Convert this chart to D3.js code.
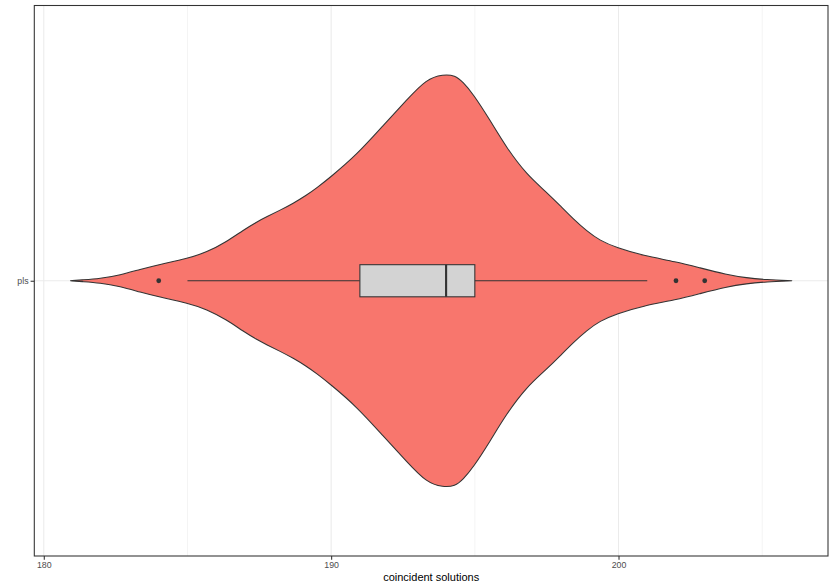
<!DOCTYPE html>
<html>
<head>
<meta charset="utf-8">
<script src="https://cdn.jsdelivr.net/npm/d3@7"></script>
<style>
  html, body { margin: 0; padding: 0; background: #ffffff; }
  svg { display: block; }
</style>
</head>
<body>
<svg id="chart" width="830" height="588"></svg>
<script>
// ---- data ----
const categories = ["pls"];
// violin profile: value along x and relative density (max = 1)
const violinValues  = [180.93, 181.3, 181.96, 182.66, 183.35, 184.05, 184.98, 185.67, 186.37, 186.94, 187.41, 187.76, 188.2, 188.68, 189.15, 189.50, 189.96, 190.89, 191.81, 192.63, 193.32, 193.90, 194.31, 194.59, 194.94, 195.52, 196.10, 196.80, 197.49, 197.96, 198.42, 198.9, 199.35, 199.93, 200.85, 202.01, 202.82, 203.75, 204.45, 205.14, 206.03];
const violinDensity = [0, 0.004, 0.01, 0.028, 0.055, 0.08, 0.107, 0.138, 0.19, 0.245, 0.285, 0.31, 0.34, 0.375, 0.415, 0.45, 0.5, 0.61, 0.752, 0.876, 0.978, 1.0, 0.995, 0.962, 0.905, 0.78, 0.645, 0.515, 0.43, 0.365, 0.3, 0.24, 0.195, 0.16, 0.122, 0.092, 0.063, 0.03, 0.014, 0.005, 0];
// boxplot summary
const boxStats = { lowerWhisker: 185, q1: 191, median: 194, q3: 195, upperWhisker: 201 };
const outliers = [184, 202, 203];
const xTicks = [180, 190, 200];
const xMinorTicks = [185, 195, 205];
const xDomain = [179.67, 207.29];
const xTitle = "coincident solutions";

// ---- layout ----
const panel = { left: 34.3, right: 828, top: 5.5, bottom: 556 };
const svg = d3.select("#chart");
const font = "'Liberation Sans', Arial, Helvetica, sans-serif";

const x = d3.scaleLinear().domain(xDomain).range([panel.left, panel.right]);
const y = d3.scalePoint().domain(categories).range([panel.top, panel.bottom]).padding(0.6);
const step = y.step();
const violinHalf = d3.scaleLinear().domain([0, 1]).range([0, 0.45 * step]);
const boxHalf = 0.035 * step;

// panel background
svg.append("rect")
  .attr("x", panel.left).attr("y", panel.top)
  .attr("width", panel.right - panel.left).attr("height", panel.bottom - panel.top)
  .attr("fill", "#ffffff");

// grid lines
const grid = svg.append("g");
grid.selectAll("line.minor").data(xMinorTicks).enter().append("line")
  .attr("x1", d => x(d)).attr("x2", d => x(d))
  .attr("y1", panel.top).attr("y2", panel.bottom)
  .attr("stroke", "#EBEBEB").attr("stroke-width", 0.55);
grid.selectAll("line.major").data(xTicks).enter().append("line")
  .attr("x1", d => x(d)).attr("x2", d => x(d))
  .attr("y1", panel.top).attr("y2", panel.bottom)
  .attr("stroke", "#EBEBEB").attr("stroke-width", 1.07);
grid.selectAll("line.majory").data(categories).enter().append("line")
  .attr("x1", panel.left).attr("x2", panel.right)
  .attr("y1", d => y(d)).attr("y2", d => y(d))
  .attr("stroke", "#EBEBEB").attr("stroke-width", 1.07);

// violin
const profile = violinValues.map((v, i) => ({ v, d: violinDensity[i] }));
categories.forEach(cat => {
  const cy = y(cat);
  const area = d3.area()
    .x(p => x(p.v))
    .y0(p => cy + violinHalf(p.d))
    .y1(p => cy - violinHalf(p.d))
    .curve(d3.curveBasis);
  svg.append("path")
    .datum(profile)
    .attr("d", area)
    .attr("fill", "#F8766D")
    .attr("stroke", "#333333")
    .attr("stroke-width", 1.07)
    .attr("stroke-linejoin", "round");

  // boxplot whiskers
  const g = svg.append("g");
  g.append("line")
    .attr("x1", x(boxStats.lowerWhisker)).attr("x2", x(boxStats.q1))
    .attr("y1", cy).attr("y2", cy)
    .attr("stroke", "#333333").attr("stroke-width", 1.07);
  g.append("line")
    .attr("x1", x(boxStats.q3)).attr("x2", x(boxStats.upperWhisker))
    .attr("y1", cy).attr("y2", cy)
    .attr("stroke", "#333333").attr("stroke-width", 1.07);
  // box
  g.append("rect")
    .attr("x", x(boxStats.q1)).attr("y", cy - boxHalf)
    .attr("width", x(boxStats.q3) - x(boxStats.q1)).attr("height", 2 * boxHalf)
    .attr("fill", "#D3D3D3").attr("stroke", "#333333").attr("stroke-width", 1.07);
  // median
  g.append("line")
    .attr("x1", x(boxStats.median)).attr("x2", x(boxStats.median))
    .attr("y1", cy - boxHalf).attr("y2", cy + boxHalf)
    .attr("stroke", "#333333").attr("stroke-width", 2.13);
  // outliers
  g.selectAll("circle").data(outliers).enter().append("circle")
    .attr("cx", d => x(d)).attr("cy", cy).attr("r", 2.4)
    .attr("fill", "#333333");
});

// panel border
svg.append("rect")
  .attr("x", panel.left).attr("y", panel.top)
  .attr("width", panel.right - panel.left).attr("height", panel.bottom - panel.top)
  .attr("fill", "none").attr("stroke", "#333333").attr("stroke-width", 1.07);

// axes
const xAxis = svg.append("g")
  .attr("transform", `translate(0,${panel.bottom})`)
  .call(d3.axisBottom(x).tickValues(xTicks).tickSize(3.7).tickPadding(2).tickSizeOuter(0));
xAxis.select(".domain").remove();
xAxis.selectAll(".tick line").attr("stroke", "#333333").attr("stroke-width", 1.07);
xAxis.selectAll(".tick text").attr("fill", "#4D4D4D").style("font-family", font).style("font-size", "8.8px");

const yAxis = svg.append("g")
  .attr("transform", `translate(${panel.left},0)`)
  .call(d3.axisLeft(y).tickSize(3.7).tickPadding(2).tickSizeOuter(0));
yAxis.select(".domain").remove();
yAxis.selectAll(".tick line").attr("stroke", "#333333").attr("stroke-width", 1.07);
yAxis.selectAll(".tick text").attr("fill", "#4D4D4D").style("font-family", font).style("font-size", "8.8px");

// axis title
svg.append("text")
  .attr("x", (panel.left + panel.right) / 2)
  .attr("y", 581)
  .attr("text-anchor", "middle")
  .attr("fill", "#000000")
  .style("font-family", font)
  .style("font-size", "11px")
  .text(xTitle);
</script>
</body>
</html>
